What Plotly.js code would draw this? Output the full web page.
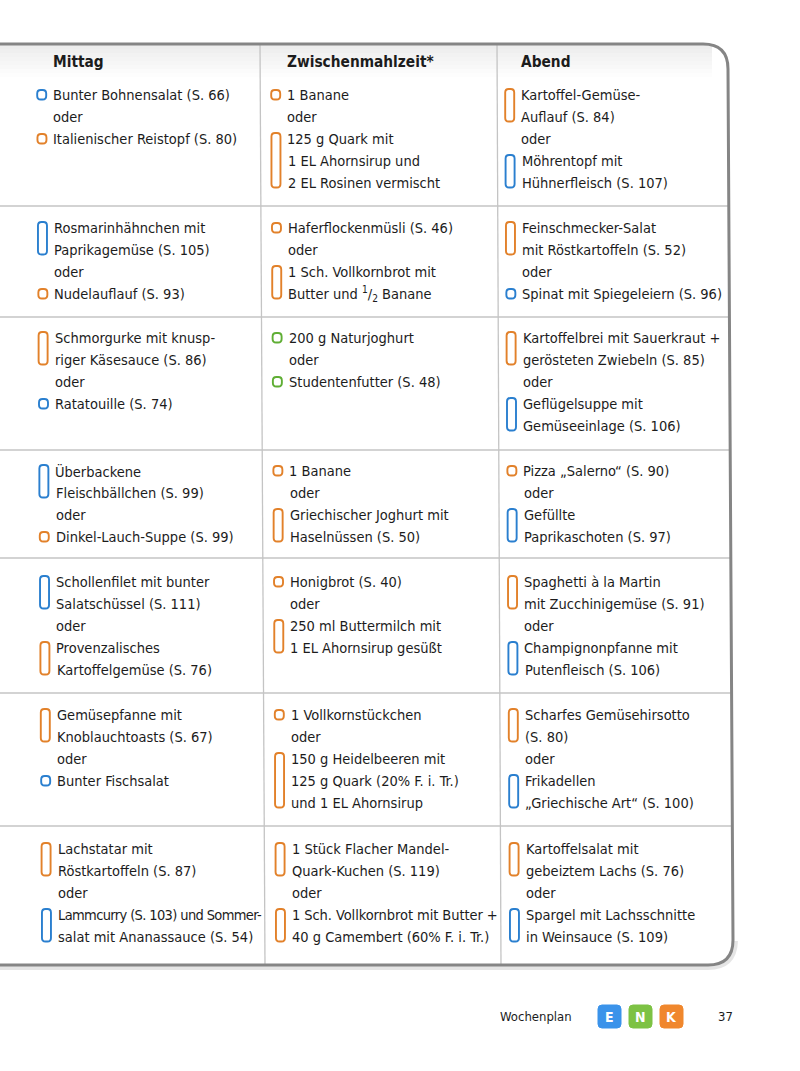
<!DOCTYPE html>
<html><head><meta charset="utf-8">
<script src="https://cdn.plot.ly/plotly-3.0.1.min.js"></script>
<style>html,body{margin:0;padding:0;background:#fff}#chart{width:800px;height:1071px}</style>
</head><body><div id="chart"></div>
<script>
// ---------- data ----------
const spalten = ['Mittag', 'Zwischenmahlzeit*', 'Abend'];

// each row: [option 1, option 2]; '|' = line break inside an option
const mittag = [
  ['Bunter Bohnensalat (S. 66)', 'Italienischer Reistopf (S. 80)'],
  ['Rosmarinhähnchen mit|Paprikagemüse (S. 105)', 'Nudelauflauf (S. 93)'],
  ['Schmorgurke mit knusp-|riger Käsesauce (S. 86)', 'Ratatouille (S. 74)'],
  ['Überbackene|Fleischbällchen (S. 99)', 'Dinkel-Lauch-Suppe (S. 99)'],
  ['Schollenfilet mit bunter|Salatschüssel (S. 111)', 'Provenzalisches|Kartoffelgemüse (S. 76)'],
  ['Gemüsepfanne mit|Knoblauchtoasts (S. 67)', 'Bunter Fischsalat'],
  ['Lachstatar mit|Röstkartoffeln (S. 87)', 'Lammcurry (S. 103) und Sommer-|salat mit Ananassauce (S. 54)']
];
const mittagTyp = [['E','K'],['E','K'],['K','E'],['E','K'],['E','K'],['K','E'],['K','E']];

const zwischen = [
  ['1 Banane', '125 g Quark mit|1 EL Ahornsirup und|2 EL Rosinen vermischt'],
  ['Haferflockenmüsli (S. 46)', '1 Sch. Vollkornbrot mit|Butter und <sup>1</sup>/<sub>2</sub> Banane'],
  ['200 g Naturjoghurt', 'Studentenfutter (S. 48)'],
  ['1 Banane', 'Griechischer Joghurt mit|Haselnüssen (S. 50)'],
  ['Honigbrot (S. 40)', '250 ml Buttermilch mit|1 EL Ahornsirup gesüßt'],
  ['1 Vollkornstückchen', '150 g Heidelbeeren mit|125 g Quark (20% F. i. Tr.)|und 1 EL Ahornsirup'],
  ['1 Stück Flacher Mandel-|Quark-Kuchen (S. 119)', '1 Sch. Vollkornbrot mit Butter +|40 g Camembert (60% F. i. Tr.)']
];
const zwischenTyp = [['K','K'],['K','K'],['N','N'],['K','K'],['K','K'],['K','K'],['K','K']];

const abend = [
  ['Kartoffel-Gemüse-|Auflauf (S. 84)', 'Möhrentopf mit|Hühnerfleisch (S. 107)'],
  ['Feinschmecker-Salat|mit Röstkartoffeln (S. 52)', 'Spinat mit Spiegeleiern (S. 96)'],
  ['Kartoffelbrei mit Sauerkraut +|gerösteten Zwiebeln (S. 85)', 'Geflügelsuppe mit|Gemüseeinlage (S. 106)'],
  ['Pizza „Salerno“ (S. 90)', 'Gefüllte|Paprikaschoten (S. 97)'],
  ['Spaghetti à la Martin|mit Zucchinigemüse (S. 91)', 'Champignonpfanne mit|Putenfleisch (S. 106)'],
  ['Scharfes Gemüsehirsotto|(S. 80)', 'Frikadellen|„Griechische Art“ (S. 100)'],
  ['Kartoffelsalat mit|gebeiztem Lachs (S. 76)', 'Spargel mit Lachsschnitte|in Weinsauce (S. 109)']
];
const abendTyp = [['K','E'],['K','E'],['K','E'],['K','E'],['K','E'],['K','E'],['K','E']];

const trenner = 'oder';
const legende = ['E', 'N', 'K'];
const fusszeile = 'Wochenplan';
const seitenzahl = '37';

// ---------- style / layout ----------
const FARBE = {E: '#2a7fcf', N: '#5fae34', K: '#e2812a'};
const BADGE = {E: '#3b93ea', N: '#7dc244', K: '#f0872d'};
const FAMILY = '"DejaVu Sans Condensed"';
const FONT = FAMILY + ', "DejaVu Sans", sans-serif';
const FS = 14.5;
const TXT = '#1c1c1c';
const LH = 22;
const rowStart = [95, 228, 338, 471, 582, 715, 849];
const rowSep = [206, 317, 450, 558, 693, 826];
const colText = [51, 285, 519];
const colEdge = [[260, 265], [497, 501], [728, 733]];
const skew = y => (y - 60) * 0.0058;
const edgeAt = (c, y) => colEdge[c][0] + (colEdge[c][1] - colEdge[c][0]) * (y - 44) / 921;

const cv = document.createElement('canvas').getContext('2d');
cv.font = FS + 'px ' + FONT;
function fitText(t, x, limit) {
  const plain = t.replace(/<[^>]+>/g, '');
  const w = cv.measureText(plain).width + 3;
  if (x + w <= limit) return t;
  const ls = -((x + w - limit) / Math.max(plain.length - 1, 1));
  return `<span style="letter-spacing:${ls.toFixed(2)}px">${t}</span>`;
}

const shapes = [];
const ann = [];

function rrect(x0, y0, x1, y1, r) {
  return `M ${x0 + r},${y0} L ${x1 - r},${y0} Q ${x1},${y0} ${x1},${y0 + r} L ${x1},${y1 - r} Q ${x1},${y1} ${x1 - r},${y1} L ${x0 + r},${y1} Q ${x0},${y1} ${x0},${y1 - r} L ${x0},${y0 + r} Q ${x0},${y0} ${x0 + r},${y0} Z`;
}

// header shading
for (let i = 0; i < 8; i++) {
  shapes.push({type: 'rect', xref: 'x', yref: 'y', x0: 0, x1: 712, y0: 45 + i * 4, y1: 49 + i * 4,
    fillcolor: '#000', opacity: 0.07 * (1 - i / 8), line: {width: 0}, layer: 'below'});
}

// horizontal separators
rowSep.forEach(y => shapes.push({type: 'line', xref: 'x', yref: 'y', x0: 0, x1: edgeAt(2, y), y0: y, y1: y,
  line: {color: '#c4c4c4', width: 1.3}}));
// vertical separators
[0, 1].forEach(c => shapes.push({type: 'line', xref: 'x', yref: 'y', x0: colEdge[c][0], x1: colEdge[c][1], y0: 44, y1: 965,
  line: {color: '#c4c4c4', width: 1.3}}));
// frame shadow + frame
shapes.push({type: 'path', xref: 'x', yref: 'y', path: 'M -5,968 L 708,968 Q 735,968 736,941', line: {color: 'rgba(0,0,0,0.10)', width: 4}});
shapes.push({type: 'path', xref: 'x', yref: 'y',
  path: 'M -5,44 L 703,44 Q 728,44 728,69 L 733,940 Q 733,965 708,965 L -5,965',
  line: {color: '#858585', width: 3}});

// headers
spalten.forEach((s, c) => ann.push({x: colText[c], y: 62, xref: 'x', yref: 'y', text: '<b>' + s + '</b>',
  showarrow: false, xanchor: 'left', yanchor: 'middle', font: {family: FONT, size: 15.3, color: TXT}}));

function addLine(col, y, t) {
  const x = colText[col] + skew(y);
  ann.push({x: x, y: y, xref: 'x', yref: 'y', text: fitText(t, x, edgeAt(col, y) - 2), showarrow: false,
    xanchor: 'left', yanchor: 'middle', font: {family: FONT, size: FS, color: TXT}});
}

function cell(col, row, opts, typ) {
  let y = rowStart[row];
  opts.forEach((opt, k) => {
    if (k > 0) { addLine(col, y, trenner); y += LH; }
    const lines = opt.split('|');
    const y0 = y;
    lines.forEach(t => { addLine(col, y, t); y += LH; });
    const y1 = y - LH;
    const cx = colText[col] + skew(y0) - 9.5;
    let top, bot;
    if (lines.length === 1) { top = y0 - 5; bot = y0 + 4.5; }
    else { top = y0 - 6; bot = y1 + 4.5; }
    shapes.push({type: 'path', xref: 'x', yref: 'y', path: rrect(cx - 4.5, top, cx + 4.5, bot, 3.5),
      line: {color: FARBE[typ[k]], width: 1.9}});
  });
}

[[mittag, mittagTyp], [zwischen, zwischenTyp], [abend, abendTyp]].forEach(([rows, typs], c) => {
  rows.forEach((opts, r) => cell(c, r, opts, typs[r]));
});

// footer
ann.push({x: 498, y: 1016, xref: 'x', yref: 'y', text: fusszeile, showarrow: false, xanchor: 'left', yanchor: 'middle',
  font: {family: FONT, size: 13, color: TXT}});
legende.forEach((l, i) => {
  const x0 = 598 + i * 31;
  shapes.push({type: 'path', xref: 'x', yref: 'y', path: rrect(x0, 1005, x0 + 23, 1028, 4),
    fillcolor: BADGE[l], line: {color: BADGE[l], width: 1}});
  ann.push({x: x0 + 11.5, y: 1016.5, xref: 'x', yref: 'y', text: '<b>' + l + '</b>', showarrow: false,
    xanchor: 'center', yanchor: 'middle', font: {family: FONT, size: 14, color: '#fff'}});
});
ann.push({x: 725, y: 1016, xref: 'x', yref: 'y', text: seitenzahl, showarrow: false, xanchor: 'center', yanchor: 'middle',
  font: {family: FONT, size: 13, color: TXT}});

Plotly.newPlot('chart', [{x: [], y: [], type: 'scatter', hoverinfo: 'skip'}], {
  width: 800, height: 1071, margin: {l: 0, r: 0, t: 0, b: 0},
  paper_bgcolor: '#fff', plot_bgcolor: '#fff', showlegend: false,
  xaxis: {range: [0, 800], visible: false, fixedrange: true},
  yaxis: {range: [1071, 0], visible: false, fixedrange: true},
  shapes: shapes, annotations: ann
}, {displayModeBar: false, staticPlot: true});
</script></body></html>
